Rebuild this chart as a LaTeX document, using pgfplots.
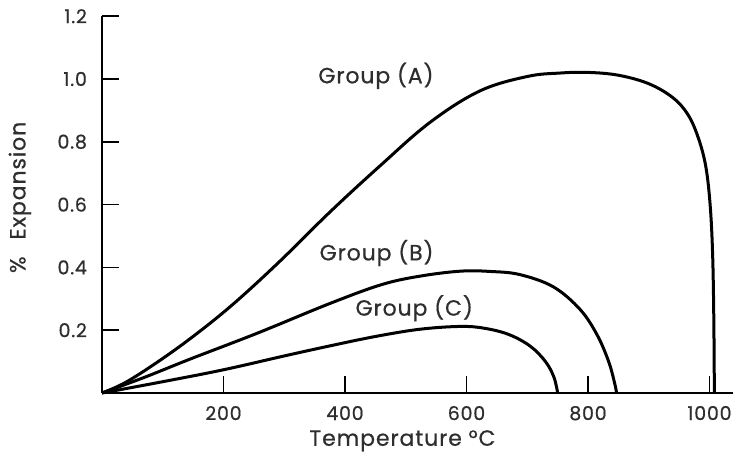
\documentclass[border=0pt]{standalone}
\usepackage{fontspec}
\setmainfont{Poppins}[LetterSpace=4, FakeBold=0.6]
\usepackage{pgfplots}
\pgfplotsset{compat=1.18}
\definecolor{txt}{HTML}{2E2E2E}
\begin{document}
\begin{tikzpicture}
\path[use as bounding box] (-51pt,-34pt) rectangle (319pt,196.5pt);
\begin{axis}[
 scale only axis, width=315.6pt, height=188.4pt,
 xmin=0, xmax=1039, ymin=0, ymax=1.2,
 axis x line*=bottom, axis y line*=left,
 axis line style={line width=1.2pt, black},
 xtick={200,400,600,800,1000}, ytick={0.2,0.4,0.6,0.8,1.0,1.2},
 xticklabels={200,400,600,800,1000},
 yticklabels={0.2,0.4,0.6,0.8,1.0,1.2},
 tick align=inside, major tick length=8.5pt,
 tick style={line width=0.8pt, black},
 ticklabel style={font=\fontsize{9.5}{10}\selectfont, text=txt},
 xticklabel style={yshift=-3pt},
 yticklabel style={xshift=-4pt},
 /pgf/number format/assume math mode=true,
 xlabel={Temperature °C}, ylabel={\%\hspace{5pt} Expansion},
 label style={font=\fontsize{11}{13}\selectfont, text=txt},
 xlabel style={at={(axis description cs:0.476,-0.127)}, anchor=center},
 ylabel style={at={(axis description cs:-0.13,0.519)}, anchor=center},
 clip=false,
]
\addplot[black, line width=1.5pt, smooth, tension=0.6] coordinates {
 (0,0) (40,0.035) (100,0.11) (160,0.195) (220,0.29) (293,0.42) (375,0.576) (458,0.724)
 (540,0.862) (622,0.962) (700,1.008) (754,1.019) (800,1.021) (850,1.012)
 (900,0.985) (940,0.94) (965,0.885) (982,0.81) (994,0.72) (1001,0.6)
 (1005,0.45) (1007,0.25) (1008,0)
};
\addplot[black, line width=1.5pt, smooth, tension=0.6] coordinates {
 (0,0) (70,0.05) (145,0.108) (255,0.19) (375,0.285) (460,0.345) (523,0.372) (590,0.388) (640,0.387) (688,0.377)
 (743,0.338) (787,0.266) (815,0.185) (834,0.1) (844,0.03) (847,0)
};
\addplot[black, line width=1.5pt, smooth, tension=0.6] coordinates {
 (0,0) (100,0.036) (200,0.074) (300,0.118) (375,0.15) (450,0.18) (523,0.203)
 (590,0.212) (630,0.206) (670,0.186) (705,0.149) (730,0.1) (744,0.05) (750,0)
};
\node[font=\fontsize{11}{13}\selectfont, text=txt] at (axis cs:451,1.01) {Group (A)};
\node[font=\fontsize{11}{13}\selectfont, text=txt] at (axis cs:452,0.446) {Group (B)};
\node[font=\fontsize{11}{13}\selectfont, text=txt] at (axis cs:514,0.27) {Group (C)};
\end{axis}
\end{tikzpicture}
\end{document}
